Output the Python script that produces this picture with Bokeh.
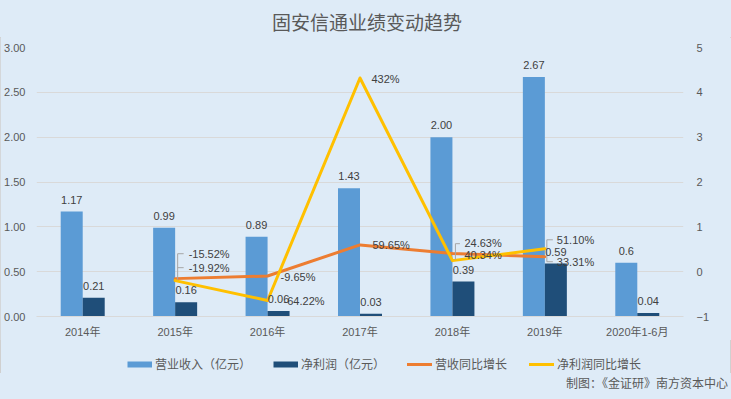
from bokeh.plotting import figure
from bokeh.layouts import column
from bokeh.models import (Range1d, LinearAxis, FixedTicker, NumeralTickFormatter,
                          Legend, LegendItem, Div)
from bokeh.embed import file_html
from bokeh.resources import INLINE
from bokeh.core.properties import value

# ---------------- data ----------------
title_text = "固安信通业绩变动趋势"
source_note = "制图：《金证研》南方资本中心"
years = ["2014年", "2015年", "2016年", "2017年", "2018年", "2019年", "2020年1-6月"]
revenue = [1.17, 0.99, 0.89, 1.43, 2.00, 2.67, 0.60]
revenue_labels = ["1.17", "0.99", "0.89", "1.43", "2.00", "2.67", "0.6"]
profit = [0.21, 0.16, 0.06, 0.03, 0.39, 0.59, 0.04]
profit_labels = ["0.21", "0.16", "0.06", "0.03", "0.39", "0.59", "0.04"]
rev_growth = [None, -0.1552, -0.0965, 0.5965, 0.4034, 0.3331, None]
rev_growth_labels = [None, "-15.52%", "-9.65%", "59.65%", "40.34%", "33.31%", None]
profit_growth = [None, -0.1992, -0.6422, 4.32, 0.2463, 0.5110, None]
profit_growth_labels = [None, "-19.92%", "-64.22%", "432%", "24.63%", "51.10%", None]
left_ticks = [0, 0.5, 1.0, 1.5, 2.0, 2.5, 3.0]
right_ticks = [-1, 0, 1, 2, 3, 4, 5]
series_names = ["营业收入（亿元）", "净利润（亿元）", "营收同比增长", "净利润同比增长"]

# ---------------- style ----------------
BG = "#DEEBF7"
C_REV = "#5B9BD5"
C_PRO = "#1F4E79"
C_RG = "#ED7D31"
C_PG = "#FFC000"
GRID = "#D9D9D9"
TXT = "#595959"
VAL = "#404040"
NUM_FONT = "Liberation Sans, Noto Sans CJK SC"
CJK_FONT = "Noto Sans CJK SC"

W, H = 731, 399
H_TITLE, H_LEG, H_NOTE = 37, 33, 26
H1 = H - H_TITLE - H_LEG - H_NOTE
BL, BR, BT, BB = 36, 48, 10, 23
FW, FH = W - BL - BR, H1 - BT - BB
n = len(years)
PX_X = FW / n          # pixels per category
PX_R = FH / 6.0        # pixels per unit on right axis

title_div = Div(text=title_text, width=W, height=H_TITLE,
                styles={"background-color": BG, "text-align": "center", "font-size": "19px",
                        "font-family": CJK_FONT, "color": TXT, "line-height": "44px",
                        "padding-left": "3px", "box-sizing": "border-box", "margin": "0"})

p = figure(width=W, height=H1, output_backend="svg", toolbar_location=None,
           x_range=Range1d(-0.5, n - 0.5), y_range=Range1d(0, 3),
           min_border_left=BL, min_border_right=BR, min_border_top=BT, min_border_bottom=BB,
           background_fill_color=BG, border_fill_color=BG, outline_line_color=None)
p.extra_y_ranges = {"pct": Range1d(-1, 5)}

# axes
p.xaxis.ticker = FixedTicker(ticks=list(range(n)))
p.xaxis.major_label_overrides = {i: years[i] for i in range(n)}
p.yaxis.ticker = FixedTicker(ticks=left_ticks)
p.yaxis.formatter = NumeralTickFormatter(format="0.00")
right = LinearAxis(y_range_name="pct", ticker=FixedTicker(ticks=right_ticks))
p.add_layout(right, "right")
for ax in [p.xaxis[0], p.yaxis[0], right]:
    ax.major_tick_line_color = None
    ax.minor_tick_line_color = None
    ax.major_tick_in = 0
    ax.major_tick_out = 0
    ax.major_label_text_font = NUM_FONT
    ax.major_label_text_font_size = "11px"
    ax.major_label_text_color = TXT
p.xaxis.axis_line_color = GRID
p.yaxis[0].axis_line_color = None
right.axis_line_color = None
p.xaxis.major_label_standoff = 9
p.yaxis[0].major_label_standoff = 11
right.major_label_standoff = 13
p.xgrid.visible = False
p.ygrid.ticker = FixedTicker(ticks=left_ticks)
p.ygrid.grid_line_color = GRID

# bars
bw = 0.238
xs = list(range(n))
p.vbar(x=[i - bw / 2 for i in xs], top=revenue, width=bw, fill_color=C_REV, line_color=None)
p.vbar(x=[i + bw / 2 for i in xs], top=profit, width=bw, fill_color=C_PRO, line_color=None)

# lines
rg_idx = [i for i, v in enumerate(rev_growth) if v is not None]
pg_idx = [i for i, v in enumerate(profit_growth) if v is not None]
p.line(rg_idx, [rev_growth[i] for i in rg_idx], y_range_name="pct",
       line_color=C_RG, line_width=3, line_join="round", line_cap="round")
p.line(pg_idx, [profit_growth[i] for i in pg_idx], y_range_name="pct",
       line_color=C_PG, line_width=3, line_join="round", line_cap="round")

# leader lines (pixel offsets relative to a series point)
leaders = [
    (rev_growth, 1, [(2.5, -25, 2.5, 1), (2.5, -25, 8.5, -25), (2.5, -11, 8.5, -11)]),
    (profit_growth, 4, [(3, -17, 3, -1), (3, -17, 7.5, -17)]),
    (profit_growth, 5, [(2, -9, 2, 13), (2, -9, 8, -9), (2, 13, 8, 13)]),
]
lx, ly = [], []
for ser, i, segs in leaders:
    for dx0, dy0, dx1, dy1 in segs:
        lx.append([i + dx0 / PX_X, i + dx1 / PX_X])
        ly.append([ser[i] - dy0 / PX_R, ser[i] - dy1 / PX_R])
p.multi_line(lx, ly, y_range_name="pct", line_color="#A6A6A6", line_width=1)

# bar value labels
p.text(x=[i - bw / 2 for i in xs], y=revenue, text=revenue_labels, y_offset=-12,
       text_align="center", text_baseline="middle", text_font=value(NUM_FONT),
       text_font_size="11px", text_color=VAL)
p.text(x=[i + bw / 2 for i in xs], y=profit, text=profit_labels, y_offset=-12,
       text_align="center", text_baseline="middle", text_font=value(NUM_FONT),
       text_font_size="11px", text_color=VAL)

# growth labels
rg_off = {1: (13.5, -25), 2: (13, 1), 3: (12.5, 0), 4: (12, 1), 5: (12, 5)}
pg_off = {1: (13.5, -13), 2: (16, 1), 3: (11.5, 1), 4: (12, -18), 5: (12, -9)}
tx, ty, tt, tdx, tdy = [], [], [], [], []
for ser, labs, off in [(rev_growth, rev_growth_labels, rg_off), (profit_growth, profit_growth_labels, pg_off)]:
    for i in range(n):
        if ser[i] is None:
            continue
        tx.append(i); ty.append(ser[i]); tt.append(labs[i])
        tdx.append(off[i][0]); tdy.append(off[i][1])
p.text(x=tx, y=ty, text=tt, x_offset=tdx, y_offset=tdy, y_range_name="pct",
       text_align="left", text_baseline="middle", text_font=value(NUM_FONT),
       text_font_size="11px", text_color=VAL)

# ---------------- legend strip ----------------
p2 = figure(width=W, height=H_LEG, output_backend="svg", toolbar_location=None,
            x_axis_type=None, y_axis_type=None,
            x_range=Range1d(0, 1), y_range=Range1d(0, 1),
            min_border=0, min_border_left=0, min_border_right=0, min_border_top=0,
            min_border_bottom=0, background_fill_alpha=0, border_fill_alpha=0,
            outline_line_color=None)
p2.grid.visible = False
nan = float("nan")
px_rev = p2.line([nan], [nan], line_color=C_REV, line_width=6, line_cap="butt")
px_pro = p2.line([nan], [nan], line_color=C_PRO, line_width=6, line_cap="butt")
px_rg = p2.line([nan], [nan], line_color=C_RG, line_width=3, line_cap="round")
px_pg = p2.line([nan], [nan], line_color=C_PG, line_width=3, line_cap="round")
LH = 16
legend = Legend(items=[
    LegendItem(label=series_names[0], renderers=[px_rev]),
    LegendItem(label=series_names[1], renderers=[px_pro]),
    LegendItem(label=series_names[2], renderers=[px_rg]),
    LegendItem(label=series_names[3], renderers=[px_pg]),
], orientation="horizontal", location=(127 - BL, 1),
    background_fill_alpha=0, border_line_alpha=0, padding=0, margin=0,
    glyph_width=25, glyph_height=8, label_height=LH, label_standoff=3, spacing=22,
    label_text_font=CJK_FONT, label_text_font_size="12px", label_text_color=TXT)
p2.add_layout(legend, "center")

note_div = Div(text=source_note, width=W, height=H_NOTE,
               styles={"background-color": BG, "text-align": "right", "font-size": "12px",
                       "font-family": CJK_FONT, "color": TXT, "line-height": "20px",
                       "padding-right": "3px", "box-sizing": "border-box", "margin": "0"})

layout = column(title_div, p, p2, note_div, spacing=0)
layout.styles = {"background-color": BG, "outline": "1px solid #D0D0D0", "outline-offset": "-1px"}

open("out.html", "w").write(file_html(layout, INLINE))
